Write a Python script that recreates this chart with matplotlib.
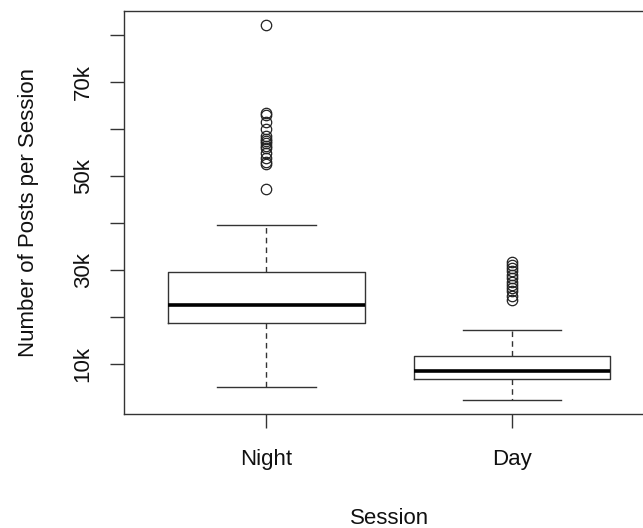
import matplotlib
matplotlib.use("Agg")
import matplotlib.pyplot as plt

plt.rcParams['font.family'] = ['Liberation Sans', 'DejaVu Sans']

# box summaries (posts per session)
sessions = ["Night", "Day"]
medians = [22600, 8600]
q1s = [18800, 6900]
q3s = [29600, 11800]
whis_lo = [5200, 2500]
whis_hi = [39600, 17200]
night_outliers = [82100, 63500, 63000, 61500, 60000, 58500, 58000, 57500,
                  57000, 56500, 56000, 55000, 54000, 53000, 52700, 47400]
day_outliers = [31800, 31200, 30500, 29800, 29000, 28300, 27500, 26800,
                26200, 25500, 24500, 23600]
outliers = [night_outliers, day_outliers]

ytick_vals = [10000, 20000, 30000, 40000, 50000, 60000, 70000, 80000]
ytick_labels = ["10k", "", "30k", "", "50k", "", "70k", ""]

stats = []
for i, name in enumerate(sessions):
    stats.append({
        "label": name,
        "med": medians[i],
        "q1": q1s[i],
        "q3": q3s[i],
        "whislo": whis_lo[i],
        "whishi": whis_hi[i],
        "fliers": outliers[i],
    })

fig = plt.figure(figsize=(6.43, 5.28), dpi=100)
# the plot region runs a bit past the right edge of the picture
ax = fig.add_axes([0.1933, 0.2153, 0.8235, 0.7644])

lc = "#333333"
ax.bxp(stats, positions=[1, 2], widths=0.8, capwidths=0.4,
       boxprops=dict(color=lc, linewidth=1.0),
       medianprops=dict(color="black", linewidth=2.6),
       whiskerprops=dict(color=lc, linewidth=1.0, linestyle=(0, (4, 3))),
       capprops=dict(color=lc, linewidth=1.0),
       flierprops=dict(marker="o", markerfacecolor="none",
                       markeredgecolor="#222222", markersize=7.5,
                       markeredgewidth=0.9))

ax.set_xlim(0.42, 2.58)
ax.set_ylim(-640, 85230)

ax.set_yticks(ytick_vals)
ax.set_yticklabels(ytick_labels, rotation=90, va="center")
ax.set_xticks([1, 2])
ax.set_xticklabels(sessions)

ax.tick_params(axis="both", length=10, width=1.0, color=lc,
               labelsize=16, labelcolor="#111111")
ax.tick_params(axis="y", pad=12)
ax.tick_params(axis="x", pad=15)

for sp in ax.spines.values():
    sp.set_color(lc)
    sp.set_linewidth(1.0)

ax.set_xlabel("Session", fontsize=16, color="#111111", labelpad=27)
ax.set_ylabel("Number of Posts per Session", fontsize=16, color="#111111",
              labelpad=24)

fig.savefig("out.png", dpi=100)
